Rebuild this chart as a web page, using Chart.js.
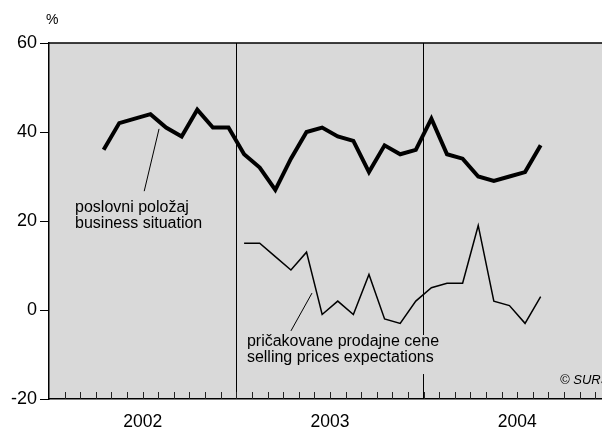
<!DOCTYPE html>
<html>
<head>
<meta charset="utf-8">
<script src="https://cdn.jsdelivr.net/npm/chart.js@4/dist/chart.umd.min.js"></script>
<style>
  html, body { margin: 0; padding: 0; background: #fff; }
  #wrap { width: 602px; height: 432px; }
</style>
</head>
<body>
<div id="wrap"><canvas id="myChart" width="602" height="432"></canvas></div>
<script>
// monthly survey balances, %
const years = ['2002', '2003', '2004'];
// poslovni položaj, from April 2002
const businessStart = 3;
const businessSituation = [36, 42, 43, 44, 41, 39, 45, 41, 41,
    35, 32, 27, 34, 40, 41, 39, 38, 31, 37, 35, 36,
    43, 35, 34, 30, 29, 30, 31, 37];
// pričakovane prodajne cene, from January 2003
const pricesStart = 12;
const sellingPrices = [15, 15, 12, 9, 13, -1, 2, -1, 8, -2, -3, 2,
    5, 6, 6, 19, 2, 1, -3, 3];
const yTicks = [-20, 0, 20, 40, 60];

const FONT = "'Liberation Sans', Arial, Helvetica, sans-serif";

// points sit in the middle of each month
const toPoints = (start, arr) => arr.map((v, i) => ({ x: start + i + 0.5, y: v }));

const decorations = {
    id: 'decorations',
    beforeDraw(chart) {
        const { ctx, chartArea: a } = chart;
        ctx.save();
        ctx.fillStyle = '#d9d9d9';
        ctx.fillRect(a.left, a.top, a.right - a.left, a.bottom - a.top);
        ctx.restore();
    },
    afterDraw(chart) {
        const { ctx, chartArea: a } = chart;
        const x = chart.scales.x, y = chart.scales.y;
        const px = v => x.getPixelForValue(v);
        const py = v => y.getPixelForValue(v);
        ctx.save();

        // month ticks inside the bottom axis
        ctx.strokeStyle = '#222';
        ctx.lineWidth = 1;
        ctx.beginPath();
        for (let m = 1; m <= 35; m++) {
            const xx = Math.round(px(m)) + 0.5;
            ctx.moveTo(xx, a.bottom);
            ctx.lineTo(xx, a.bottom - 7);
        }
        ctx.stroke();

        // top frame line
        ctx.strokeStyle = '#000';
        ctx.lineWidth = 1.5;
        ctx.beginPath();
        ctx.moveTo(a.left, a.top);
        ctx.lineTo(a.right, a.top);
        ctx.stroke();

        // series labels with leader lines
        ctx.font = '16px ' + FONT;
        ctx.fillStyle = '#000';
        ctx.textBaseline = 'middle';
        ctx.textAlign = 'left';

        const bx = px(1.67), by = py(23.1);
        ctx.fillText('poslovni položaj', bx, by);
        ctx.fillText('business situation', bx, by + 16);
        ctx.lineWidth = 1;
        ctx.beginPath();
        ctx.moveTo(px(7.05), py(40.7));
        ctx.lineTo(px(6.1), py(26.7));
        ctx.stroke();

        const sx = px(12.68), sy = py(-7.2);
        ctx.fillStyle = '#d9d9d9';
        ctx.fillRect(sx - 3, sy - 7, 200, 39);
        ctx.fillStyle = '#000';
        ctx.fillText('pričakovane prodajne cene', sx, sy);
        ctx.fillText('selling prices expectations', sx, sy + 16);
        ctx.beginPath();
        ctx.moveTo(px(15.5), py(-4.7));
        ctx.lineTo(px(16.85), py(3.8));
        ctx.stroke();

        ctx.font = 'italic 13px ' + FONT;
        ctx.fillText('© SURS', px(32.74), py(-15.8));

        // unit above the value axis
        ctx.font = '14px ' + FONT;
        ctx.fillText('%', a.left - 3, 20);
        ctx.restore();
    }
};

const config = {
    type: 'line',
    data: {
        datasets: [
            {
                label: 'poslovni položaj',
                data: toPoints(businessStart, businessSituation),
                borderColor: '#000',
                borderWidth: 4,
                pointRadius: 0,
                tension: 0
            },
            {
                label: 'pričakovane prodajne cene',
                data: toPoints(pricesStart, sellingPrices),
                borderColor: '#000',
                borderWidth: 1.5,
                pointRadius: 0,
                tension: 0
            }
        ]
    },
    options: {
        responsive: false,
        animation: false,
        events: [],
        layout: { padding: { top: 43, right: 0, bottom: 0, left: 0 } },
        plugins: {
            legend: { display: false },
            tooltip: { enabled: false }
        },
        scales: {
            x: {
                type: 'linear',
                min: 0,
                max: 35.43,
                afterBuildTicks: s => { s.ticks = Array.from({ length: 36 }, (_, i) => ({ value: i })); },
                afterFit: s => { s.height = 33; s.paddingLeft = 0; s.paddingRight = 0; },
                ticks: {
                    autoSkip: false,
                    maxRotation: 0,
                    padding: 13,
                    color: '#000',
                    font: { family: FONT, size: 17.5 },
                    callback: v => (v % 12 === 6 ? years[(v - 6) / 12] : '')
                },
                grid: {
                    drawTicks: false,
                    lineWidth: 1,
                    color: c => (c.tick && c.tick.value > 0 && c.tick.value % 12 === 0) ? '#000' : 'rgba(0,0,0,0)'
                },
                border: { color: '#000', width: 1.5 }
            },
            y: {
                min: -20,
                max: 60,
                afterBuildTicks: s => { s.ticks = yTicks.map(v => ({ value: v })); },
                afterFit: s => { s.width = 49; },
                ticks: {
                    padding: 3,
                    color: '#000',
                    font: { family: FONT, size: 18 }
                },
                grid: {
                    drawOnChartArea: false,
                    drawTicks: true,
                    tickLength: 9,
                    color: '#000',
                    lineWidth: 1
                },
                border: { color: '#000', width: 1.5 }
            }
        }
    },
    plugins: [decorations]
};

const ctx = document.getElementById('myChart').getContext('2d');
new Chart(ctx, config);
</script>
</body>
</html>
